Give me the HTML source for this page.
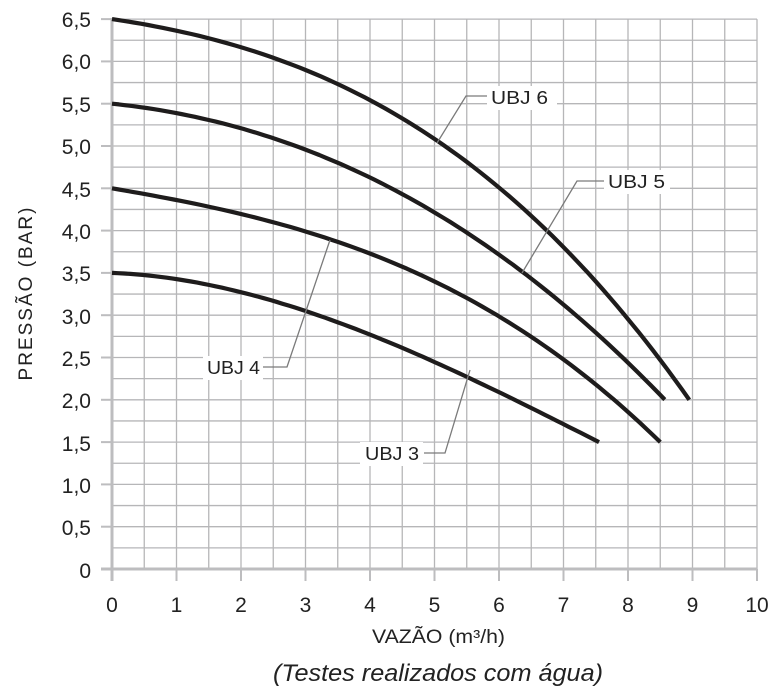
<!DOCTYPE html>
<html><head><meta charset="utf-8"><style>
html,body{margin:0;padding:0;background:#fff;}
svg{display:block;font-family:"Liberation Sans",sans-serif;}
</style></head><body>
<svg id="s" width="774" height="699" viewBox="0 0 774 699" xmlns="http://www.w3.org/2000/svg">
<g id="grid" stroke="#b6b6b8" stroke-width="1.3"></g>
<line x1="112" y1="18" x2="112" y2="581" stroke="#bdbdbf" stroke-width="3"/>
<line x1="101" y1="569" x2="757" y2="569" stroke="#bdbdbf" stroke-width="3"/>
<g id="ticks" stroke="#bdbdbf" stroke-width="2"></g>
<g id="curves" fill="none" stroke="#1e1c1c" stroke-width="4.2" stroke-linecap="butt" stroke-linejoin="round"></g>
<g fill="none" stroke="#7a7a7a" stroke-width="1.3">
<polyline points="489,96 466,96 437,143"/>
<polyline points="606,181 577,181 522,273"/>
<polyline points="263,367 287,367 330,240"/>
<polyline points="424,453 445,453 470,370"/>
</g>
<g fill="#fff">
<rect x="487" y="86" width="70" height="24"/>
<rect x="604" y="170" width="66" height="24"/>
<rect x="203" y="356" width="60" height="24"/>
<rect x="360" y="442" width="63" height="24"/>
</g>
<g font-size="18" fill="#222">
<text x="491" y="104" textLength="57" lengthAdjust="spacingAndGlyphs">UBJ 6</text>
<text x="608" y="188" textLength="57" lengthAdjust="spacingAndGlyphs">UBJ 5</text>
<text x="207" y="374" textLength="53" lengthAdjust="spacingAndGlyphs">UBJ 4</text>
<text x="365" y="460" textLength="54" lengthAdjust="spacingAndGlyphs">UBJ 3</text>
</g>
<g font-size="21" fill="#222" text-anchor="end">
<text x="91" y="27">6,5</text><text x="91" y="69">6,0</text><text x="91" y="112">5,5</text>
<text x="91" y="154">5,0</text><text x="91" y="197">4,5</text><text x="91" y="239">4,0</text>
<text x="91" y="281">3,5</text><text x="91" y="324">3,0</text><text x="91" y="366">2,5</text>
<text x="91" y="408">2,0</text><text x="91" y="451">1,5</text><text x="91" y="493">1,0</text>
<text x="91" y="535">0,5</text><text x="91" y="578">0</text>
</g>
<g font-size="21" fill="#222" text-anchor="middle" id="xl"></g>
<text x="0" y="0" font-size="19" fill="#222" letter-spacing="2" text-anchor="middle" transform="translate(32,293) rotate(-90)">PRESSÃO  (BAR)</text>
<text x="372" y="643" font-size="19" fill="#222" textLength="133" lengthAdjust="spacingAndGlyphs">VAZÃO (m³/h)</text>
<text x="273" y="681" font-size="24" font-style="italic" fill="#222" textLength="330" lengthAdjust="spacingAndGlyphs">(Testes realizados com água)</text>
</svg>
<script>
var NS="http://www.w3.org/2000/svg";
function X(v){return 112+v*64.5;}function Y(p){return 569-p*84.6;}
function el(p,t,a){var e=document.createElementNS(NS,t);for(var k in a)e.setAttribute(k,a[k]);document.getElementById(p).appendChild(e);return e;}
for(var i=1;i<=20;i++){el("grid","line",{x1:X(i/2),y1:Y(6.5),x2:X(i/2),y2:569});}
for(var j=1;j<=26;j++){el("grid","line",{x1:112,y1:Y(j/4),x2:757,y2:Y(j/4)});}
for(var i=0;i<=10;i++){el("ticks","line",{x1:X(i),y1:569,x2:X(i),y2:581});var t=el("xl","text",{x:X(i),y:612});t.textContent=i;}
for(var j=0;j<=13;j++){el("ticks","line",{x1:101,y1:Y(j/2),x2:112,y2:Y(j/2)});}
var C=[
[[0,6.5],[1,6.36],[2.92,5.93],[5.04,5.05],[6.64,4.09],[7.57,3.33],[8.95,2.0]],
[[0,5.5],[1,5.43],[2.92,4.99],[5.09,4.12],[6.37,3.48],[7.57,2.86],[8.57,2.0]],
[[0,4.5],[1,4.4],[2,4.2],[3.38,3.86],[4.47,3.57],[5.5,3.24],[6.53,2.74],[7.05,2.43],[8.5,1.5]],
[[0,3.5],[1,3.43],[2,3.27],[3,3.04],[4.47,2.64],[5.5,2.27],[6.53,1.88],[7.55,1.5]]];
function solve3(A,b){
var M=A.map(function(r,i){return r.concat([b[i]]);});
for(var i=0;i<3;i++){var p=M[i][i];for(var j=i;j<4;j++)M[i][j]/=p;
for(var k=0;k<3;k++)if(k!=i){var f=M[k][i];for(var j=i;j<4;j++)M[k][j]-=f*M[i][j];}}
return [M[0][3],M[1][3],M[2][3]];}
C.forEach(function(P){
var a=P[0][1],end=P[P.length-1][0];
var A=[[0,0,0],[0,0,0],[0,0,0]],b=[0,0,0];
P.slice(1).forEach(function(pt,idx,arr){
var x=pt[0],y=a-pt[1],w=(idx==arr.length-1)?30:1;
var f=[x,x*x,x*x*x];
for(var i=0;i<3;i++){b[i]+=w*f[i]*y;for(var j=0;j<3;j++)A[i][j]+=w*f[i]*f[j];}});
var c=solve3(A,b);
var d="";
for(var n=0;n<=80;n++){var x=end*n/80;var p=a-(c[0]*x+c[1]*x*x+c[2]*x*x*x);
d+=(n?"L":"M")+X(x).toFixed(1)+","+Y(p).toFixed(1);}
el("curves","path",{d:d});});
</script>
</body></html>
